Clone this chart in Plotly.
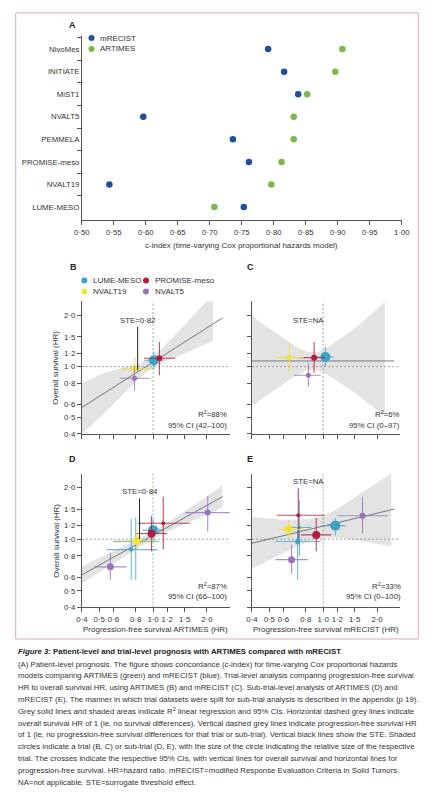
import math
import plotly.graph_objects as go

W, H = 433, 800

# ---------------- Panel A data ----------------
trials_a = ["NivoMes", "INITIATE", "MiST1", "NVALT5", "PEMMELA", "PROMISE-meso", "NVALT19", "LUME-MESO"]
cidx_mrecist = [0.791, 0.816, 0.838, 0.596, 0.736, 0.761, 0.543, 0.753]
cidx_artimes = [0.907, 0.896, 0.852, 0.831, 0.831, 0.812, 0.796, 0.707]
cidx_ticks = [0.50, 0.55, 0.60, 0.65, 0.70, 0.75, 0.80, 0.85, 0.90, 0.95, 1.00]
cidx_ticktext = ["0·50", "0·55", "0·60", "0·65", "0·70", "0·75", "0·80", "0·85", "0·90", "0·95", "1·00"]

# ---------------- HR axes ----------------
hr_ticks = [0.4, 0.5, 0.6, 0.8, 1.0, 1.2, 1.5, 2.0]
hr_ticktext = ["0·4", "0·5", "0·6", "0·8", "1·0", "1·2", "1·5", "2·0"]

# ---------------- Panel B (trial level, ARTIMES) ----------------
b_trial = ["LUME-MESO", "PROMISE-meso", "NVALT19", "NVALT5"]
b_pfs = [1.01, 1.085, 0.79, 0.787]
b_pfs_lo = [0.89, 0.89, 0.66, 0.65]
b_pfs_hi = [1.13, 1.33, 0.98, 0.96]
b_os = [1.09, 1.12, 0.97, 0.853]
b_os_lo = [0.96, 0.89, 0.90, 0.72]
b_os_hi = [1.23, 1.40, 1.14, 1.01]
b_reg_x = [0.4, 2.44]
b_reg_y = [0.574, 1.94]
b_band_x = [0.4, 0.55, 0.7, 0.85, 1.0, 1.2, 1.5, 1.8, 2.16]
b_band_hi = [0.80, 0.93, 0.995, 1.045, 1.15, 1.38, 1.76, 2.18, 2.64]
b_band_lo = [0.40, 0.546, 0.705, 0.869, 0.99, 1.08, 1.20, 1.30, 1.42]
b_ste = 0.82

# ---------------- Panel C (trial level, mRECIST) ----------------
c_trial = ["LUME-MESO", "PROMISE-meso", "NVALT19", "NVALT5"]
c_pfs = [1.03, 0.89, 0.647, 0.827]
c_pfs_lo = [0.90, 0.74, 0.54, 0.686]
c_pfs_hi = [1.15, 1.02, 0.78, 0.97]
c_os = [1.14, 1.13, 1.13, 0.89]
c_os_lo = [1.0, 0.92, 0.93, 0.76]
c_os_hi = [1.31, 1.40, 1.38, 1.05]
c_reg_x = [0.4, 2.5]
c_reg_y = [1.08, 1.08]
c_band_x = [0.4, 0.5, 0.6, 0.7, 0.8, 0.9, 1.0, 1.2, 1.5, 1.8, 2.21]
c_band_hi = [1.99, 1.68, 1.47, 1.32, 1.23, 1.21, 1.26, 1.42, 1.68, 1.98, 2.42]
c_band_lo = [0.586, 0.693, 0.793, 0.88, 0.945, 0.959, 0.923, 0.822, 0.70, 0.60, 0.51]

# ---------------- Panel D (sub-trial level, ARTIMES) ----------------
d_trial = ["NVALT5", "PROMISE-meso", "LUME-MESO", "LUME-MESO", "LUME-MESO", "PROMISE-meso", "NVALT19", "NVALT5"]
d_pfs = [2.02, 1.14, 0.755, 0.80, 1.0, 0.98, 0.81, 0.577]
d_pfs_lo = [1.51, 0.82, 0.55, 0.60, 0.87, 0.80, 0.62, 0.47]
d_pfs_hi = [2.72, 1.61, 1.06, 1.08, 1.14, 1.20, 1.05, 0.71]
d_os = [1.43, 1.24, 0.87, 0.97, 1.13, 1.08, 0.98, 0.69]
d_os_lo = [1.11, 0.87, 0.58, 0.58, 0.98, 0.85, 0.88, 0.58]
d_os_hi = [1.78, 1.77, 1.31, 1.33, 1.30, 1.36, 1.12, 0.83]
d_reg_x = [0.4, 2.44]
d_reg_y = [0.62, 1.77]
d_band_x = [0.4, 0.6, 0.8, 1.0, 1.3, 1.7, 2.44]
d_band_hi = [0.696, 0.850, 0.982, 1.109, 1.316, 1.592, 2.056]
d_band_lo = [0.553, 0.723, 0.875, 1.003, 1.147, 1.294, 1.524]
d_ste = 0.84

# ---------------- Panel E (sub-trial level, mRECIST) ----------------
e_trial = ["NVALT5", "LUME-MESO", "LUME-MESO", "PROMISE-meso", "NVALT19", "LUME-MESO", "PROMISE-meso", "NVALT5"]
e_pfs = [1.66, 0.72, 0.737, 0.726, 0.64, 1.17, 0.915, 0.666]
e_pfs_lo = [1.20, 0.54, 0.62, 0.55, 0.56, 0.98, 0.75, 0.54]
e_pfs_hi = [2.30, 0.97, 0.86, 1.02, 0.79, 1.33, 1.11, 0.82]
e_os = [1.37, 0.97, 1.17, 1.38, 1.14, 1.20, 1.06, 0.76]
e_os_lo = [1.08, 0.58, 0.80, 1.0, 1.0, 1.05, 0.85, 0.63]
e_os_hi = [1.77, 1.16, 1.70, 1.98, 1.30, 1.33, 1.33, 0.93]
e_reg_x = [0.4, 2.5]
e_reg_y = [0.948, 1.5]
e_band_x = [0.4, 0.5, 0.6, 0.7, 0.85, 1.0, 1.2, 1.5, 1.9, 2.4]
e_band_hi = [1.35, 1.32, 1.30, 1.30, 1.31, 1.36, 1.50, 1.75, 2.05, 2.42]
e_band_lo = [0.67, 0.75, 0.83, 0.90, 0.98, 1.02, 1.02, 0.99, 0.95, 0.91]

# ---------------- styles ----------------
b_size = [10, 6, 6, 5]
c_size = [10, 6, 5, 5]
d_size = [6, 4, 4, 5, 10, 8, 8, 7]
e_size = [6, 5, 3, 4, 8, 10, 8, 7]

COL_M = "#1d4f9a"
COL_A = "#7cb74b"
trial_col = {"LUME-MESO": "#3ba3c7", "PROMISE-meso": "#b31b3f", "NVALT19": "#f4e23c", "NVALT5": "#9873b9"}
trial_err = {"LUME-MESO": "rgba(59,163,199,0.75)", "PROMISE-meso": "rgba(179,27,63,0.8)",
             "NVALT19": "rgba(240,220,60,0.8)", "NVALT5": "rgba(152,115,185,0.8)"}
FONT = "Liberation Sans, Arial, sans-serif"
TXT = "#333333"
AX = "#555555"


def px(x):
    return x / W


def py(y):
    return 1 - y / H


fig = go.Figure()

# ---- Panel A ----
fig.add_trace(go.Scatter(x=cidx_mrecist, y=trials_a, mode="markers", xaxis="x", yaxis="y",
                         marker=dict(size=6.5, color=COL_M), showlegend=False))
fig.add_trace(go.Scatter(x=cidx_artimes, y=trials_a, mode="markers", xaxis="x", yaxis="y",
                         marker=dict(size=6.5, color=COL_A), showlegend=False))


def add_panel(n, trial, pfs, pfs_lo, pfs_hi, os_, os_lo, os_hi, sizes, reg_x, reg_y, bx, bhi, blo):
    xa, ya = "x%d" % n, "y%d" % n
    fig.add_trace(go.Scatter(x=bx + bx[::-1], y=bhi + blo[::-1], fill="toself", mode="lines",
                             line=dict(width=0), fillcolor="#e3e3e3", xaxis=xa, yaxis=ya,
                             showlegend=False, hoverinfo="skip"))
    fig.add_trace(go.Scatter(x=[0.4, 2.68], y=[1, 1], mode="lines", xaxis=xa, yaxis=ya,
                             line=dict(color="#8a8a8a", width=0.8, dash="2px,2px"), showlegend=False))
    fig.add_trace(go.Scatter(x=[1, 1], y=[0.4, 2.45], mode="lines", xaxis=xa, yaxis=ya,
                             line=dict(color="#8a8a8a", width=0.8, dash="2px,2px"), showlegend=False))
    fig.add_trace(go.Scatter(x=reg_x, y=reg_y, mode="lines", xaxis=xa, yaxis=ya,
                             line=dict(color="#6e7c86", width=1), showlegend=False))
    for i in range(len(trial)):
        t = trial[i]
        fig.add_trace(go.Scatter(
            x=[pfs[i]], y=[os_[i]], mode="markers", xaxis=xa, yaxis=ya, showlegend=False,
            marker=dict(size=sizes[i], color=trial_col[t]),
            error_x=dict(type="data", symmetric=False, array=[pfs_hi[i] - pfs[i]],
                         arrayminus=[pfs[i] - pfs_lo[i]], width=0, thickness=1.1, color=trial_err[t]),
            error_y=dict(type="data", symmetric=False, array=[os_hi[i] - os_[i]],
                         arrayminus=[os_[i] - os_lo[i]], width=0, thickness=1.1, color=trial_err[t]),
        ))


add_panel(2, b_trial, b_pfs, b_pfs_lo, b_pfs_hi, b_os, b_os_lo, b_os_hi, b_size, b_reg_x, b_reg_y,
          b_band_x, b_band_hi, b_band_lo)
add_panel(3, c_trial, c_pfs, c_pfs_lo, c_pfs_hi, c_os, c_os_lo, c_os_hi, c_size, c_reg_x, c_reg_y,
          c_band_x, c_band_hi, c_band_lo)
add_panel(4, d_trial, d_pfs, d_pfs_lo, d_pfs_hi, d_os, d_os_lo, d_os_hi, d_size, d_reg_x, d_reg_y,
          d_band_x, d_band_hi, d_band_lo)
add_panel(5, e_trial, e_pfs, e_pfs_lo, e_pfs_hi, e_os, e_os_lo, e_os_hi, e_size, e_reg_x, e_reg_y,
          e_band_x, e_band_hi, e_band_lo)

# STE lines
fig.add_trace(go.Scatter(x=[b_ste, b_ste], y=[0.95, 1.72], mode="lines", xaxis="x2", yaxis="y2",
                         line=dict(color="#222", width=1), showlegend=False))
fig.add_trace(go.Scatter(x=[d_ste, d_ste], y=[1.0, 1.73], mode="lines", xaxis="x4", yaxis="y4",
                         line=dict(color="#222", width=1), showlegend=False))

# ---- axes ----
tick_font = dict(size=7.8, color=TXT, family=FONT)
common = dict(showgrid=False, zeroline=False, showline=True, linecolor=AX, linewidth=0.8,
              ticks="outside", ticklen=4, tickwidth=0.8, tickcolor=AX, tickfont=tick_font)

layout_axes = {}
layout_axes["xaxis"] = dict(domain=[px(76.7), px(409)], range=[0.5, 1.0], tickvals=cidx_ticks,
                            ticktext=cidx_ticktext, anchor="y", **common)
layout_axes["yaxis"] = dict(domain=[py(221.7), py(36)], type="category", categoryorder="array",
                            categoryarray=trials_a, autorange="reversed", tickson="boundaries",
                            anchor="x", **common)

hr_x_range = [math.log10(0.4), math.log10(2.68)]
xdom_left = [px(76.7), px(230.2)]
xdom_right = [px(253.3), px(406.8)]
ydom_top = [py(436.7), py(303.3)]
ydom_bot = [py(611.3), py(476.7)]
panels = {2: (xdom_left, ydom_top, 2.43, False, True),
          3: (xdom_right, ydom_top, 2.43, False, False),
          4: (xdom_left, ydom_bot, 2.41, True, True),
          5: (xdom_right, ydom_bot, 2.41, True, False)}
for n, (xd, yd, ytop, xlab, ylab) in panels.items():
    layout_axes["xaxis%d" % n] = dict(domain=xd, type="log", range=hr_x_range, tickvals=hr_ticks,
                                      ticktext=hr_ticktext, showticklabels=xlab, anchor="y%d" % n, **common)
    layout_axes["yaxis%d" % n] = dict(domain=yd, type="log", range=[math.log10(0.4), math.log10(ytop)],
                                      tickvals=hr_ticks, ticktext=hr_ticktext, showticklabels=ylab,
                                      anchor="x%d" % n, **common)

annotations = []


def ann(x, y, text, size=7.8, xanchor="center", yanchor="middle", bold=False, angle=0, **kw):
    d = dict(x=px(x), y=py(y), xref="paper", yref="paper", text=("<b>%s</b>" % text) if bold else text,
             showarrow=False, xanchor=xanchor, yanchor=yanchor, textangle=angle,
             font=dict(size=size, color=kw.pop("color", TXT), family=FONT))
    d.update(kw)
    annotations.append(d)


# panel letters
ann(67, 25, "A", size=9, bold=True, color="#222")
ann(68.5, 269, "B", size=9, bold=True, color="#222")
ann(251.5, 269, "C", size=9, bold=True, color="#222")
ann(67, 462, "D", size=9, bold=True, color="#222")
ann(251.5, 462, "E", size=9, bold=True, color="#222")

# axis titles
ann(242.8, 246.7, "c-index (time-varying Cox proportional hazards model)", size=8)
ann(50, 370, "Overall survival (HR)", size=8, angle=-90)
ann(50, 544, "Overall survival (HR)", size=8, angle=-90)
ann(153.5, 633.3, "Progression-free survival ARTIMES (HR)", size=8)
ann(330, 633.3, "Progression-free survival mRECIST (HR)", size=8)

# R2 texts
ann(229, 416.7, "R<sup>2</sup>=88%", xanchor="right")
ann(229, 428.3, "95% CI (42–100)", xanchor="right")
ann(409.5, 416.7, "R<sup>2</sup>=6%", xanchor="right")
ann(409.5, 428.3, "95% CI (0–97)", xanchor="right")
ann(229.5, 589.3, "R<sup>2</sup>=87%", xanchor="right")
ann(229.5, 600.3, "95% CI (66–100)", xanchor="right")
ann(410, 589.3, "R<sup>2</sup>=33%", xanchor="right")
ann(410, 600.3, "95% CI (0–100)", xanchor="right")

# STE labels (data coordinates on log axes)
for xa, ya, xv, yv, txt in [("x2", "y2", b_ste, 1.72, "STE=0·82"), ("x3", "y3", 0.83, 1.72, "STE=NA"),
                            ("x4", "y4", d_ste, 1.73, "STE=0·84"), ("x5", "y5", 0.83, 1.98, "STE=NA")]:
    annotations.append(dict(x=math.log10(xv), y=math.log10(yv), xref=xa, yref=ya, text=txt, showarrow=False,
                            xanchor="center", yanchor="bottom", font=dict(size=7.8, color=TXT, family=FONT)))

# legends
legend_a = [("mRECIST", COL_M, 86.7, 38.3), ("ARTIMES", COL_A, 86.7, 49.2)]
legend_bc = [("LUME-MESO", trial_col["LUME-MESO"], 79.3, 282.3), ("NVALT19", trial_col["NVALT19"], 79.3, 293.3),
             ("PROMISE-meso", trial_col["PROMISE-meso"], 143.3, 282.3), ("NVALT5", trial_col["NVALT5"], 143.3, 293.3)]
shapes = []
for name, col, lx, ly in legend_a + legend_bc:
    shapes.append(dict(type="circle", xref="paper", yref="paper", xsizemode="pixel", ysizemode="pixel",
                       xanchor=px(lx), yanchor=py(ly), x0=-3, x1=3, y0=-3, y1=3,
                       fillcolor=col, line=dict(width=0)))
    ann(lx + 7, ly, name, size=8, xanchor="left")

# outer frame
shapes.append(dict(type="rect", xref="paper", yref="paper", x0=px(8), x1=px(426), y0=py(643), y1=py(13),
                   line=dict(color="#d9a9b7", width=1), layer="below"))

# caption
caption_title = "<b><i>Figure 3:</i> Patient-level and trial-level prognosis with ARTIMES compared with mRECIST</b>"
caption_lines = [
    "(A) Patient-level prognosis. The figure shows concordance (c-index) for time-varying Cox proportional hazards",
    "models comparing ARTIMES (green) and mRECIST (blue). Trial-level analysis comparing progression-free survival",
    "HR to overall survival HR, using ARTIMES (B) and mRECIST (C). Sub-trial-level analysis of ARTIMES (D) and",
    "mRECIST (E). The manner in which trial datasets were split for sub-trial analysis is described in the appendix (p 19).",
    "Grey solid lines and shaded areas indicate R<sup>2</sup> linear regression and 95% CIs. Horizontal dashed grey lines indicate",
    "overall survival HR of 1 (ie, no survival differences). Vertical dashed grey lines indicate progression-free survival HR",
    "of 1 (ie, no progression-free survival differences for that trial or sub-trial). Vertical black lines show the STE. Shaded",
    "circles indicate a trial (B, C) or sub-trial (D, E), with the size of the circle indicating the relative size of the respective",
    "trial. The crosses indicate the respective 95% CIs, with vertical lines for overall survival and horizontal lines for",
    "progression-free survival. HR=hazard ratio. mRECIST=modified Response Evaluation Criteria in Solid Tumors.",
    "NA=not applicable. STE=surrogate threshold effect.",
]
ann(8, 656, caption_title, size=7.8, xanchor="left", color="#222")
cap_y = [668.3, 680.0, 692.0, 703.8, 715.7, 727.6, 739.5, 751.4, 763.3, 775.2, 787.4]
for t, yy in zip(caption_lines, cap_y):
    ann(8, yy, t, size=7.8, xanchor="left")

fig.update_layout(width=W, height=H, margin=dict(l=0, r=0, t=0, b=0), paper_bgcolor="white",
                  plot_bgcolor="white", showlegend=False, annotations=annotations, shapes=shapes,
                  font=dict(family=FONT, size=7.8, color=TXT), **layout_axes)

fig.write_html("out.html")
